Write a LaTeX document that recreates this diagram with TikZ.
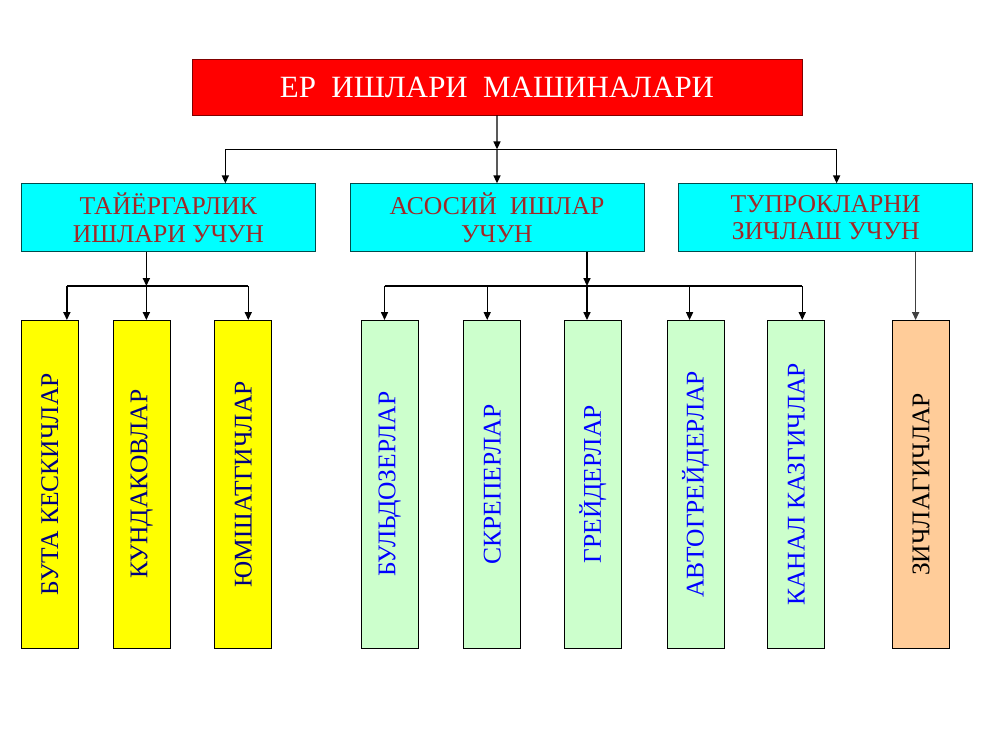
\documentclass[tikz,border=0pt]{standalone}
\usepackage{fontspec}
\setmainfont{Liberation Serif}
\usetikzlibrary{positioning,arrows.meta,calc}
\definecolor{groupcyan}{RGB}{0,255,255}
\definecolor{grouptext}{RGB}{160,40,40}
\definecolor{prepyellow}{RGB}{255,255,0}
\definecolor{maingreen}{RGB}{204,255,204}
\definecolor{packorange}{RGB}{255,204,153}

\begin{document}
\begin{tikzpicture}[x=0.02cm,y=-0.02cm,
  title/.style={draw=red!50!black,fill=red,text=white,minimum width=12.2cm,minimum height=1.12cm,inner sep=0pt,font=\fontsize{17.6}{20}\selectfont},
  group/.style={draw=teal!60!black,fill=groupcyan,text=grouptext,minimum width=5.88cm,minimum height=1.36cm,inner sep=0pt,align=center,font=\fontsize{14.6}{15.6}\selectfont},
  machine/.style={draw,minimum width=1.14cm,minimum height=6.56cm,inner sep=0pt,label={[rotate=90,font=\fontsize{14.5}{17}\selectfont,text=#1]center:\machinetext}},
  link/.style={-{Triangle[length=4.5pt,width=4pt]},line width=0.75pt},
  bar/.style={line width=0.6pt}]
\useasboundingbox (0,0) rectangle (1000,750);

\node[title] (T) at (497,87) {ЕР\ \ ИШЛАРИ\ \ МАШИНАЛАРИ};

\node[group, below=1.36cm of T] (G2) {АСОСИЙ\ \ ИШЛАР\\УЧУН};
\node[group, left=0.68cm of G2] (G1) {ТАЙЁРГАРЛИК\\ИШЛАРИ УЧУН};
\node[group, right=0.68cm of G2] (G3) {ТУПРОКЛАРНИ\\ЗИЧЛАШ УЧУН};

\def\machinetext{БУТА КЕСКИЧЛАР}
\node[machine=blue!50!black, fill=prepyellow, below=1.36cm of G1.south west, anchor=north west] (P1) {};
\def\machinetext{КУНДАКОВЛАР}
\node[machine=blue!50!black, fill=prepyellow, right=0.68cm of P1] (P2) {};
\def\machinetext{ЮМШАТГИЧЛАР}
\node[machine=blue!50!black, fill=prepyellow, right=0.88cm of P2] (P3) {};

\def\machinetext{БУЛЬДОЗЕРЛАР}
\node[machine=blue, fill=maingreen, below=1.36cm of G2.south west, xshift=0.22cm, anchor=north west] (B1) {};
\def\machinetext{СКРЕПЕРЛАР}
\node[machine=blue, fill=maingreen, right=0.9cm of B1] (B2) {};
\def\machinetext{ГРЕЙДЕРЛАР}
\node[machine=blue, fill=maingreen, right=0.86cm of B2] (B3) {};
\def\machinetext{АВТОГРЕЙДЕРЛАР}
\node[machine=blue, fill=maingreen, right=0.9cm of B3] (B4) {};
\def\machinetext{КАНАЛ КАЗГИЧЛАР}
\node[machine=blue, fill=maingreen, right=0.86cm of B4] (B5) {};

\def\machinetext{ЗИЧЛАГИЧЛАР}
\node[machine=black, fill=packorange, below=1.36cm of G3.south east, xshift=-0.46cm, anchor=north east] (Z) {};

\coordinate (J0) at ($(T.south)!0.5!(G2.north)$);
\coordinate (a1) at ([xshift=1.14cm]G1.north);
\coordinate (a3) at ([xshift=0.22cm]G3.north);
\draw[link] (T.south) -- (J0);
\draw[bar] (J0 -| a1) -- (J0 -| a3);
\draw[link] (J0 -| a1) -- (a1);
\draw[link] (J0) -- (G2.north);
\draw[link] (J0 -| a3) -- (a3);

\coordinate (s1) at ([xshift=-0.44cm]G1.south);
\coordinate (J1) at ($(s1)!0.5!(s1 |- P1.north)$);
\coordinate (p1) at ([xshift=0.34cm]P1.north);
\coordinate (p3) at ([xshift=0.1cm]P3.north);
\draw[link] (s1) -- (J1);
\draw[bar] (J1 -| p1) -- (J1 -| p3);
\draw[link] (J1 -| p1) -- (p1);
\draw[link] (J1) -- (s1 |- P2.north);
\draw[link] (J1 -| p3) -- (p3);

\coordinate (s2) at ([xshift=1.8cm]G2.south);
\coordinate (J2) at ($(s2)!0.5!(s2 |- B1.north)$);
\coordinate (b1) at ([xshift=-0.1cm]B1.north);
\coordinate (b2) at ([xshift=-0.1cm]B2.north);
\coordinate (b4) at ([xshift=-0.12cm]B4.north);
\coordinate (b5) at ([xshift=0.12cm]B5.north);
\draw[link] (s2) -- (J2);
\draw[bar] (J2 -| b1) -- (J2 -| b5);
\draw[link] (J2 -| b1) -- (b1);
\draw[link] (J2 -| b2) -- (b2);
\draw[link] (J2) -- (s2 |- B3.north);
\draw[link] (J2 -| b4) -- (b4);
\draw[link] (J2 -| b5) -- (b5);

\draw[link, black!75] ([xshift=1.8cm]G3.south) -- ([xshift=1.8cm]G3.south |- Z.north);

\end{tikzpicture}
\end{document}
